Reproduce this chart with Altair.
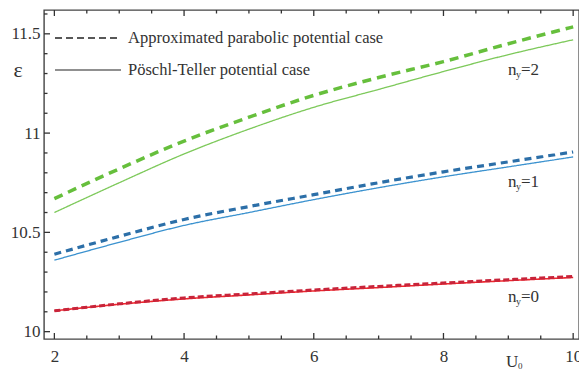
import altair as alt
import pandas as pd

# ---- data ----
u0 = [2, 3, 4, 5, 6, 7, 8, 9, 10]
approx_n2 = [10.67, 10.82, 10.96, 11.08, 11.19, 11.28, 11.36, 11.45, 11.535]
pt_n2     = [10.60, 10.75, 10.895, 11.02, 11.13, 11.22, 11.31, 11.395, 11.47]
approx_n1 = [10.39, 10.48, 10.565, 10.63, 10.69, 10.75, 10.805, 10.855, 10.905]
pt_n1     = [10.36, 10.45, 10.535, 10.60, 10.665, 10.725, 10.78, 10.83, 10.88]
approx_n0 = [10.105, 10.14, 10.17, 10.19, 10.21, 10.228, 10.245, 10.262, 10.278]
pt_n0     = [10.105, 10.138, 10.165, 10.185, 10.205, 10.222, 10.24, 10.257, 10.273]

x_major = [2, 4, 6, 8, 10]
x_minor = [2.5, 3, 3.5, 4.5, 5, 5.5, 6.5, 7, 7.5, 8.5, 9, 9.5]
y_major = [10, 10.5, 11, 11.5]
y_minor = [10.1, 10.2, 10.3, 10.4, 10.6, 10.7, 10.8, 10.9, 11.1, 11.2, 11.3, 11.4, 11.6]

legend_labels = ["Approximated parabolic potential case", "Pöschl-Teller potential case"]

# ---- layout ----
L, T = 44, 10
W, H = 535, 329
SERIF = "'Liberation Serif', 'DejaVu Serif', 'Times New Roman', serif"
TXT = "#333333"

xs = alt.Scale(domain=[1.84, 10.09], nice=False, zero=False)
ys = alt.Scale(domain=[9.963, 11.62], nice=False, zero=False)

series = [
    (approx_n2, "#66bf3c", [9, 6], 3.5),
    (pt_n2, "#7dc95a", [1, 0], 1.3),
    (approx_n1, "#2c6fa8", [7, 5], 3.2),
    (pt_n1, "#3b92cf", [1, 0], 1.3),
    (pt_n0, "#f0262c", [1, 0], 1.6),
    (approx_n0, "#c8243a", [6, 3], 3.0),
]

layers = []
for vals, col, dash, sw in series:
    df = pd.DataFrame({"u": u0, "e": vals})
    layers.append(
        alt.Chart(df).mark_line(color=col, strokeDash=dash, strokeWidth=sw,
                                interpolate="monotone")
        .encode(x=alt.X("u:Q", scale=xs), y=alt.Y("e:Q", scale=ys))
    )

# axes (labels only)
axis_base = alt.Chart(pd.DataFrame({"u": [2], "e": [10]})).mark_point(opacity=0).encode(
    x=alt.X("u:Q", scale=xs, title=None,
            axis=alt.Axis(values=x_major, format="~g", ticks=False, domain=False, grid=False,
                          labelFont=SERIF, labelFontSize=17, labelColor=TXT, labelPadding=9)),
    y=alt.Y("e:Q", scale=ys, title=None,
            axis=alt.Axis(values=y_major, format="~g", ticks=False, domain=False, grid=False,
                          labelFont=SERIF, labelFontSize=17, labelColor=TXT, labelPadding=4)),
)
layers.insert(0, axis_base)

# inward ticks
TICK = "#333333"
xmaj = pd.DataFrame({"v": x_major})
xmin = pd.DataFrame({"v": x_minor})
ymaj = pd.DataFrame({"v": y_major})
ymin = pd.DataFrame({"v": y_minor})
for d, ln in [(xmaj, 6), (xmin, 3.5)]:
    layers.append(alt.Chart(d).mark_rule(color=TICK, strokeWidth=1.3).encode(
        x=alt.X("v:Q", scale=xs), y=alt.value(H), y2=alt.value(H - ln)))
    layers.append(alt.Chart(d).mark_rule(color=TICK, strokeWidth=1.3).encode(
        x=alt.X("v:Q", scale=xs), y=alt.value(0), y2=alt.value(ln)))
for d, ln in [(ymaj, 6), (ymin, 3.5)]:
    layers.append(alt.Chart(d).mark_rule(color=TICK, strokeWidth=1.3).encode(
        y=alt.Y("v:Q", scale=ys), x=alt.value(0), x2=alt.value(ln)))

# legend
leg_y = [28, 60]
layers.append(alt.Chart(pd.DataFrame({"a": [0]})).mark_rule(color="#222", strokeWidth=1.5, strokeDash=[7, 4])
              .encode(x=alt.value(11), x2=alt.value(77), y=alt.value(leg_y[0])))
layers.append(alt.Chart(pd.DataFrame({"a": [0]})).mark_rule(color="#222", strokeWidth=1.2)
              .encode(x=alt.value(11), x2=alt.value(77), y=alt.value(leg_y[1])))
for lab, yy in zip(legend_labels, leg_y):
    layers.append(alt.Chart(pd.DataFrame({"t": [lab]})).mark_text(
        align="left", baseline="middle", font=SERIF, fontSize=16.5, color=TXT)
        .encode(text="t:N", x=alt.value(84), y=alt.value(yy)))

# n_y labels
def ny_label(num, yy):
    xx = 464
    out = []
    out.append(alt.Chart(pd.DataFrame({"t": ["n"]})).mark_text(
        align="left", baseline="middle", font=SERIF, fontSize=17, color=TXT)
        .encode(text="t:N", x=alt.value(xx), y=alt.value(yy)))
    out.append(alt.Chart(pd.DataFrame({"t": ["y"]})).mark_text(
        align="left", baseline="middle", font=SERIF, fontSize=10, color=TXT)
        .encode(text="t:N", x=alt.value(xx + 8), y=alt.value(yy + 5)))
    out.append(alt.Chart(pd.DataFrame({"t": ["=" + str(num)]})).mark_text(
        align="left", baseline="middle", font=SERIF, fontSize=17, color=TXT)
        .encode(text="t:N", x=alt.value(xx + 13), y=alt.value(yy)))
    return out

layers += ny_label(2, 60)
layers += ny_label(1, 172)
layers += ny_label(0, 287)

# axis titles
layers.append(alt.Chart(pd.DataFrame({"t": ["ε"]})).mark_text(
    align="center", baseline="middle", font=SERIF, fontSize=22, color=TXT)
    .encode(text="t:N", x=alt.value(-26), y=alt.value(60)))
layers.append(alt.Chart(pd.DataFrame({"t": ["U"]})).mark_text(
    align="left", baseline="middle", font=SERIF, fontSize=17, color=TXT)
    .encode(text="t:N", x=alt.value(462), y=alt.value(352)))
layers.append(alt.Chart(pd.DataFrame({"t": ["0"]})).mark_text(
    align="left", baseline="middle", font=SERIF, fontSize=9, color=TXT)
    .encode(text="t:N", x=alt.value(474), y=alt.value(356)))

chart = alt.layer(*layers).properties(
    width=W, height=H,
    autosize=alt.AutoSizeParams(type="none"),
    padding={"left": L, "top": T, "right": 0, "bottom": 372 - T - H},
    background="white",
).configure_view(stroke="#444444", strokeWidth=1.4)

chart.save("out.html", embed_options={"renderer": "svg", "actions": False})
